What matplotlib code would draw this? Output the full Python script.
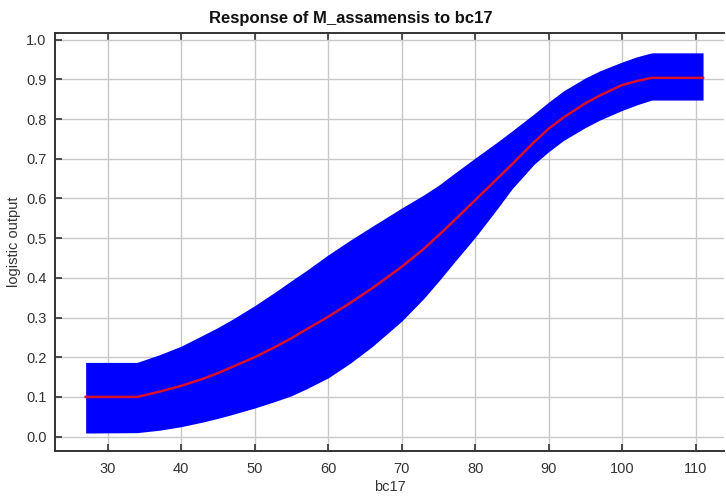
import matplotlib
matplotlib.use("Agg")
import matplotlib.pyplot as plt

plt.rcParams['font.family'] = ['Liberation Sans', 'DejaVu Sans']

# Response curve of M_assamensis to bc17 (mean and +/- one std band)
bc17 = [27, 34, 37, 40, 43, 45, 47, 50, 53, 55, 57, 60, 63, 66, 70, 73, 75, 77,
        80, 83, 85, 88, 90, 92, 95, 97, 100, 102, 104, 111]
mean_resp = [0.100, 0.100, 0.113, 0.128, 0.146, 0.160, 0.176, 0.200, 0.228, 0.248,
             0.270, 0.302, 0.337, 0.374, 0.428, 0.473, 0.507, 0.542, 0.596, 0.650,
             0.686, 0.742, 0.776, 0.804, 0.840, 0.860, 0.886, 0.896, 0.904, 0.904]
upper_resp = [0.187, 0.187, 0.206, 0.228, 0.256, 0.275, 0.296, 0.330, 0.367, 0.393,
              0.418, 0.458, 0.495, 0.530, 0.576, 0.609, 0.633, 0.661, 0.702, 0.742,
              0.770, 0.813, 0.843, 0.871, 0.904, 0.922, 0.944, 0.957, 0.967, 0.967]
lower_resp = [0.009, 0.010, 0.016, 0.025, 0.037, 0.046, 0.056, 0.072, 0.090, 0.103,
              0.120, 0.148, 0.185, 0.227, 0.291, 0.348, 0.391, 0.436, 0.502, 0.574,
              0.624, 0.686, 0.718, 0.746, 0.779, 0.798, 0.822, 0.836, 0.848, 0.848]

x_ticks = [30, 40, 50, 60, 70, 80, 90, 100, 110]
y_ticks = [0.0, 0.1, 0.2, 0.3, 0.4, 0.5, 0.6, 0.7, 0.8, 0.9, 1.0]

fig = plt.figure(figsize=(7.26, 5.0), dpi=100)
ax = fig.add_axes([55 / 726, 1 - 450.5 / 500, (724 - 55) / 726, (450.5 - 33) / 500])

ax.fill_between(bc17, lower_resp, upper_resp, color='#0000ff', linewidth=0, zorder=2)
ax.plot(bc17, mean_resp, color='#d8102c', linewidth=1.8, zorder=3)

ax.set_xlim(22.83, 113.85)
ax.set_ylim(-0.035, 1.017)
ax.set_xticks(x_ticks)
ax.set_yticks(y_ticks)
ax.set_yticklabels([f"{v:.1f}" for v in y_ticks])

ax.grid(True, color='#c8c8c8', linewidth=1.0, zorder=0)
ax.set_axisbelow(True)

for side in ['left', 'top', 'bottom']:
    ax.spines[side].set_color('#333333')
    ax.spines[side].set_linewidth(1.4)
ax.spines['right'].set_visible(False)

ax.tick_params(axis='both', direction='in', length=5, width=1.2, color='#333333',
               labelsize=10.5, labelcolor='#333333', pad=6)
ax.tick_params(axis='x', top=True, labeltop=False, pad=8)

ax.set_xlabel('bc17', fontsize=10.5, color='#333333', labelpad=3)
ax.set_ylabel('logistic output', fontsize=10.5, color='#333333', labelpad=4)
fig.text(351 / 726, 1 - 18 / 500, 'Response of M_assamensis to bc17',
         ha='center', va='center', fontsize=12, fontweight='bold', color='#111111')

fig.savefig('out.png', dpi=100)
